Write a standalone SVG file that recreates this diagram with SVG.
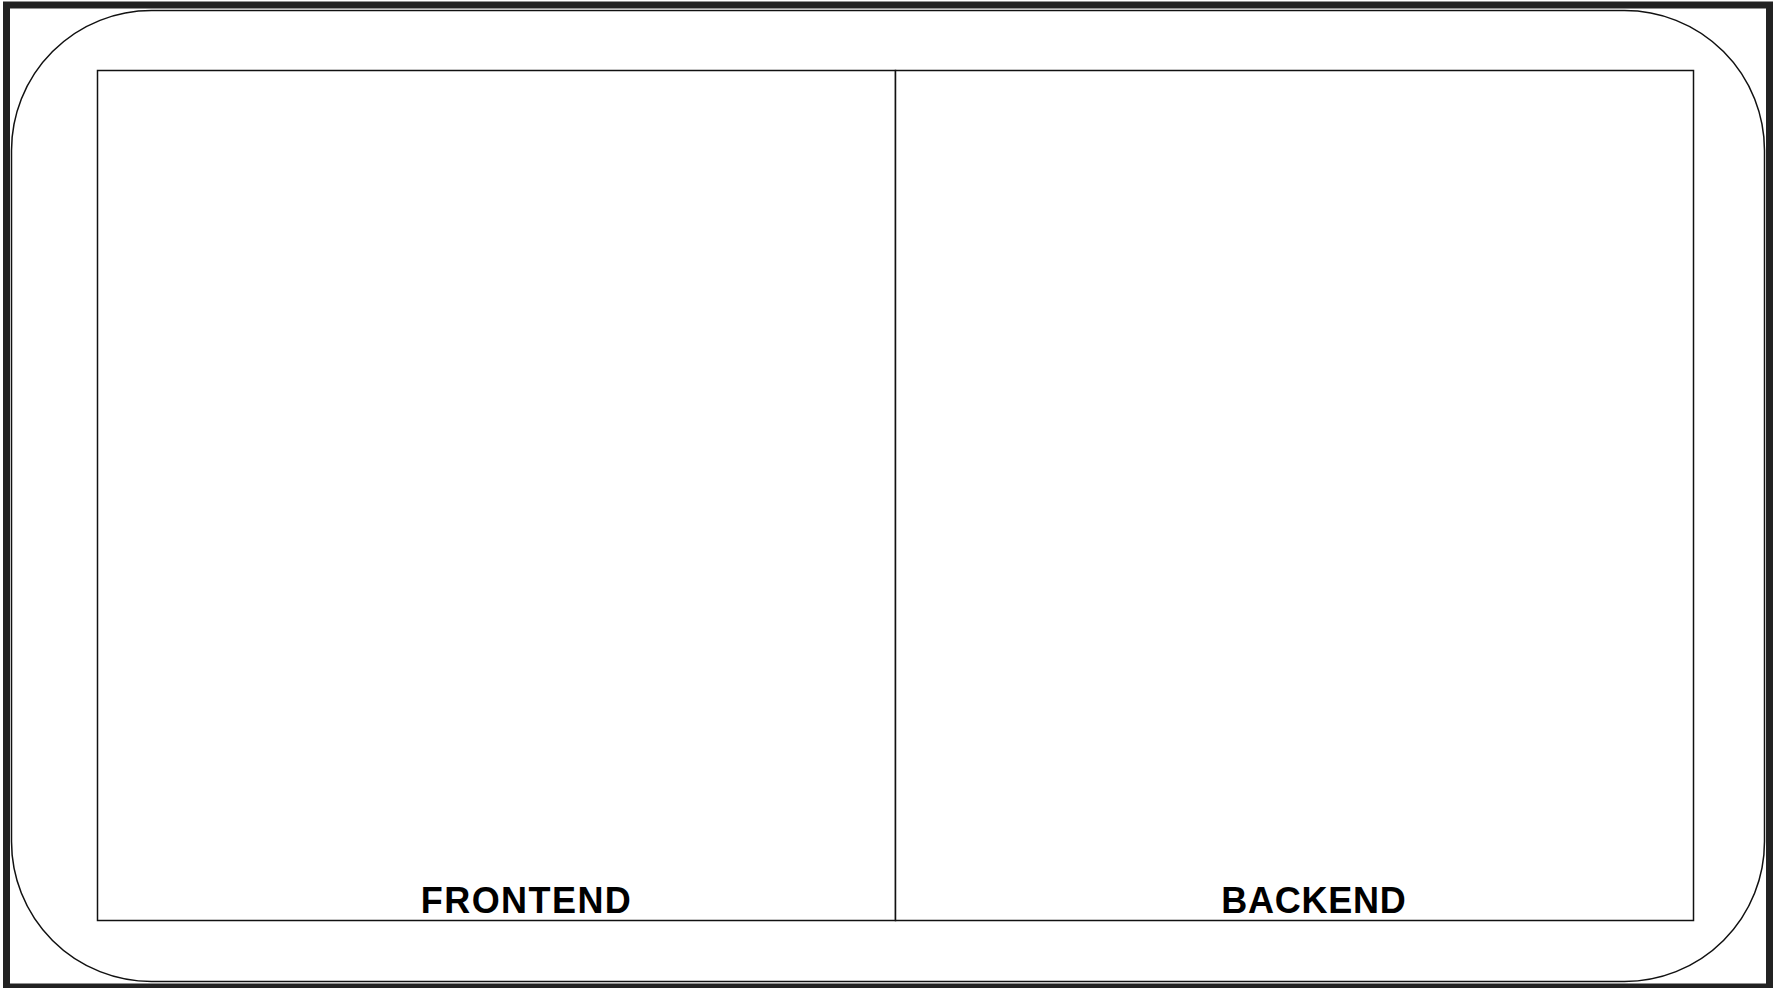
<svg xmlns="http://www.w3.org/2000/svg" width="1773" height="988" viewBox="0 0 1773 988">
<style>
.frame{fill:none;stroke:#222;stroke-width:7}
.outer{fill:#fff;stroke:#111;stroke-width:1.5}
.panel{fill:#fff;stroke:#111;stroke-width:1.5}
.label{font-family:"Liberation Sans",Arial,sans-serif;font-weight:bold;font-size:36px;fill:#000}
</style>
<rect x="0" y="0" width="1773" height="988" fill="#fff"/>
<rect class="frame" x="6.5" y="5" width="1763" height="982"/>
<rect class="outer" x="11.5" y="10.5" width="1753" height="971" rx="140" ry="140"/>
<g id="frontend">
<rect class="panel" x="97.5" y="70.5" width="798" height="850"/>
<text class="label" x="420.8" y="912.5" textLength="210" lengthAdjust="spacing">FRONTEND</text>
</g>
<g id="backend">
<rect class="panel" x="895.5" y="70.5" width="798" height="850"/>
<text class="label" x="1221.3" y="912.5" textLength="184.5" lengthAdjust="spacing">BACKEND</text>
</g>
<g id="connectors"></g>
</svg>
